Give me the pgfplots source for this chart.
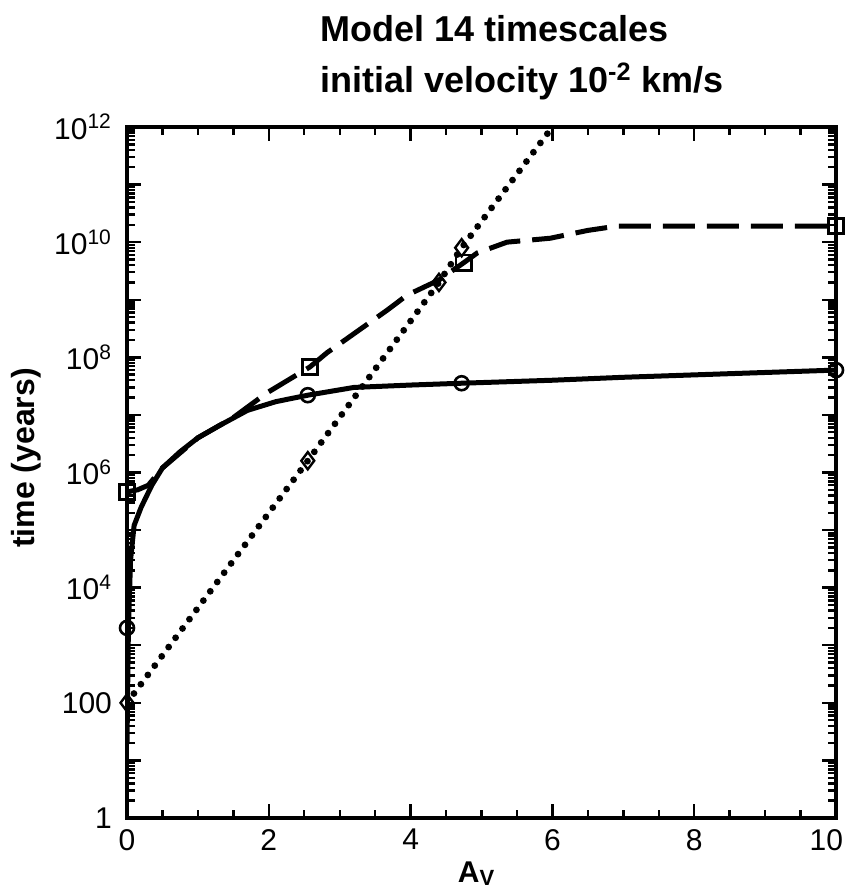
\documentclass[border=0pt]{standalone}
\usepackage{pgfplots}
\pgfplotsset{compat=1.18}
\usepackage{fontspec}
\setmainfont{Liberation Sans}
\begin{document}
\begin{tikzpicture}
\path[use as bounding box] (-63.5pt,-34.5pt) rectangle (359pt,409pt);
\begin{axis}[
  scale only axis, width=354.5pt, height=345.5pt,
  at={(0pt,0pt)}, anchor=south west,
  xmin=0, xmax=10, ymin=1, ymax=1e12, ymode=log,
  xtick={0,2,4,6,8,10}, minor x tick num=3,
  xticklabels={0,2,4,6,8,{\makebox[7pt][r]{10}}},
  ytick={1,1e1,1e2,1e3,1e4,1e5,1e6,1e7,1e8,1e9,1e10,1e11,1e12},
  yticklabels={1,,100,,10\textsuperscript{4},,10\textsuperscript{6},,10\textsuperscript{8},,10\textsuperscript{10},,10\textsuperscript{12}},
  /pgf/number format/assume math mode=true,
  tick label style={font=\fontsize{15pt}{18pt}\selectfont},
  xticklabel style={yshift=-2pt},
  yticklabel style={xshift=-4pt},
  tick align=inside,
  major tick length=7pt, minor tick length=4pt,
  every tick/.style={black, line width=1.2pt},
  axis line style={line width=2pt},
]
% solid line (circles)
\addplot[black, line width=2.5pt, no markers] coordinates {
(0,20) (0.02,2e3) (0.05,3e4) (0.1,1.2e5) (0.2,2.5e5) (0.35,6e5) (0.5,1.2e6)
(0.75,2.3e6) (1,4e6) (1.3,6.5e6) (1.7,1.2e7) (2.1,1.7e7) (2.55,2.2e7) (3.2,3e7)
(4,3.3e7) (4.72,3.55e7) (6,4e7) (7,4.5e7) (8.5,5.2e7) (10,6e7)};
% dashed line (squares)
\addplot[black, line width=2.5pt, no markers, dash pattern=on 16pt off 6pt] coordinates {
(0,4.6e5) (0.15,5e5) (0.3,6e5) (0.5,1.2e6) (1,4e6) (1.5,9e6) (1.97,2.4e7)
(2.58,6.8e7) (2.82,1.2e8) (3.1,2.1e8) (3.67,6.6e8) (3.95,1.2e9) (4.4,2.2e9)
(4.75,4.4e9) (4.94,6.5e9) (5.36,1e10) (5.97,1.17e10) (6.5,1.6e10) (6.91,1.9e10) (10,1.9e10)};
% dotted line (diamonds)
\addplot[black, line width=3.4pt, no markers, line cap=round, dash pattern=on 0pt off 5.8pt] coordinates {
(0,1e2) (2.55,1.6e6) (4.4,2e9) (4.72,8e9) (6,1e12)};
% markers
\addplot[only marks, mark=o, mark size=3.5pt, mark options={line width=1.3pt, fill=white}] coordinates {
(0,2e3) (2.55,2.2e7) (4.72,3.55e7) (10,6e7)};
\addplot[only marks, mark=square, mark size=3.8pt, mark options={line width=1.3pt, fill=white}] coordinates {
(0,4.6e5) (2.58,6.8e7) (4.75,4.4e9) (10,1.9e10)};
\addplot[only marks, mark=diamond, mark size=4.3pt, mark options={line width=1.2pt, fill=white}] coordinates {
(0,1e2) (2.55,1.6e6) (4.4,2e9) (4.72,8e9)};
\end{axis}
\node[anchor=base west, font=\fontsize{18pt}{21pt}\selectfont\bfseries] at (93pt,388pt) {Model 14 timescales};
\node[anchor=base west, font=\fontsize{18pt}{21pt}\selectfont\bfseries] at (93pt,362.5pt) {initial velocity 10\textsuperscript{-2} km/s};
\node[rotate=90, font=\fontsize{16pt}{19pt}\selectfont\bfseries] at (-50.5pt,180pt) {time (years)};
\node[anchor=north, font=\fontsize{15pt}{18pt}\selectfont\bfseries] at (174.5pt,-18.5pt) {A\raisebox{-0.15ex}{\fontsize{11pt}{13pt}\selectfont V}};
\end{tikzpicture}
\end{document}
